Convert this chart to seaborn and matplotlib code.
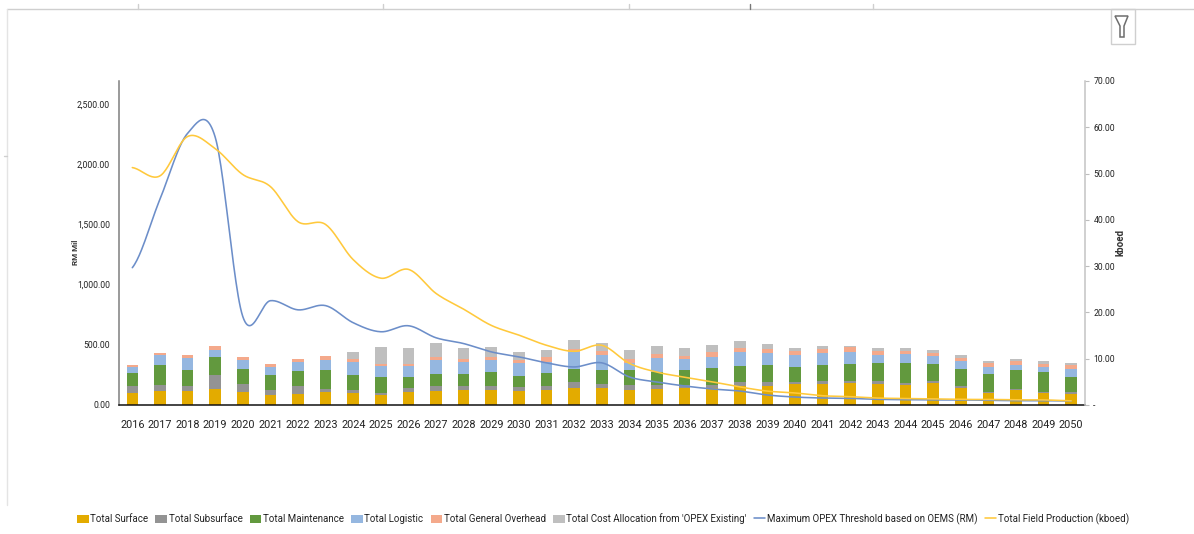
import numpy as np
import matplotlib
matplotlib.use("Agg")
import matplotlib.pyplot as plt
from matplotlib.lines import Line2D
from matplotlib.patches import Patch, Polygon, Rectangle
import seaborn as sns

years = list(range(2016, 2051))

surface = [100, 116, 116, 133, 108, 83, 91, 108, 100, 83, 108, 116, 127, 127, 116, 127, 144, 144,
           127, 133, 144, 144, 160, 160, 177, 177, 186, 177, 169, 186, 144, 100, 127, 100, 91]
subsurface = [61, 53, 44, 119, 69, 44, 69, 25, 28, 17, 33, 44, 33, 33, 36, 33, 50, 33,
              42, 36, 25, 25, 33, 33, 17, 25, 17, 25, 17, 17, 17, 8, 8, 8, 17]
maintenance = [102, 161, 127, 147, 119, 119, 119, 155, 119, 130, 89, 94, 94, 111, 86, 102, 102, 111,
               119, 102, 119, 136, 127, 136, 119, 127, 136, 144, 161, 136, 136, 147, 152, 163, 127]
logistic = [53, 86, 102, 61, 78, 69, 78, 86, 111, 91, 91, 119, 102, 102, 108, 94, 144, 127,
            58, 119, 91, 94, 119, 102, 102, 102, 102, 69, 78, 69, 66, 58, 42, 42, 61]
overhead = [14, 14, 25, 30, 25, 22, 22, 33, 22, 22, 22, 25, 22, 25, 28, 42, 25, 33,
            33, 33, 28, 42, 33, 33, 33, 33, 39, 33, 25, 25, 28, 33, 33, 25, 33]
allocation = [0, 0, 0, 0, 0, 0, 0, 0, 61, 139, 130, 116, 94, 83, 66, 58, 75, 66,
              78, 66, 66, 58, 58, 42, 25, 25, 11, 25, 25, 25, 25, 17, 17, 25, 17]
opex_threshold = [1140, 1708, 2255, 2225, 735, 866, 790, 825, 683, 608, 658, 558, 510, 441, 400, 350, 316, 350,
                  233, 191, 158, 133, 116, 83, 66, 58, 55, 47, 44, 42, 42, 39, 36, 36, 33]
field_production = [51.3, 49.5, 58.0, 55.4, 49.8, 47.2, 39.6, 39.0, 31.4, 27.4, 29.3, 24.1, 20.7, 17.2, 15.1, 12.9, 11.6, 12.9,
                    9.0, 7.1, 6.0, 5.0, 3.9, 3.0, 2.6, 2.0, 1.8, 1.5, 1.4, 1.3, 1.2, 1.2, 1.1, 1.1, 0.9]

cost_names = ["Total Surface", "Total Subsurface", "Total Maintenance", "Total Logistic",
              "Total General Overhead", "Total Cost Allocation from 'OPEX Existing'"]
cost_values = [surface, subsurface, maintenance, logistic, overhead, allocation]
cost_colors = ["#E3AB00", "#939393", "#62993E", "#95B7E0", "#F4A98B", "#BFBFBF"]
threshold_name = "Maximum OPEX Threshold based on OEMS (RM)"
production_name = "Total Field Production (kboed)"
threshold_color = "#6C8EC9"
production_color = "#FFC93C"
left_ticks = [0, 500, 1000, 1500, 2000, 2500]
right_ticks = [0, 10, 20, 30, 40, 50, 60, 70]

sns.set_theme(style="white")
plt.rcParams["font.family"] = ["Roboto", "DejaVu Sans"]


def smooth_curve(values, samples=24):
    """Spreadsheet-style smoothed line: Catmull-Rom segments through each value."""
    p = np.asarray(values, dtype=float)
    p = np.concatenate([[p[0]], p, [p[-1]]])
    xs, ys = [], []
    for i in range(1, len(p) - 2):
        t = np.linspace(0, 1, samples, endpoint=False)
        y = 0.5 * (2 * p[i] + (p[i + 1] - p[i - 1]) * t
                   + (2 * p[i - 1] - 5 * p[i] + 4 * p[i + 1] - p[i + 2]) * t ** 2
                   + (3 * p[i] - p[i - 1] - 3 * p[i + 1] + p[i + 2]) * t ** 3)
        xs.append(i - 1 + t)
        ys.append(y)
    return np.append(np.concatenate(xs), len(values) - 1), np.append(np.concatenate(ys), p[-2])


W, H = 1194, 534
fig = plt.figure(figsize=(W / 100, H / 100), dpi=100, facecolor="white")
ax = fig.add_axes([118.5 / W, 1 - 405 / H, (1085 - 118.5) / W, (405 - 81) / H])
ax.set_facecolor("none")

bottom = np.zeros(len(years))
for name, vals, color in zip(cost_names, cost_values, cost_colors):
    sns.barplot(x=years, y=vals, bottom=bottom, color=color, saturation=1, width=0.42,
                ax=ax, linewidth=0, zorder=2)
    bottom += np.asarray(vals, dtype=float)

tx, ty = smooth_curve(opex_threshold)
sns.lineplot(x=tx, y=ty, color=threshold_color, linewidth=1.15, ax=ax, zorder=3, errorbar=None)

ax2 = ax.twinx()
ax2.set_facecolor("none")
px, py = smooth_curve(field_production)
sns.lineplot(x=px, y=py, color=production_color, linewidth=1.15, ax=ax2, zorder=3, errorbar=None)

ax.set_xlim(-0.5, 34.5)
ax.set_ylim(0, 2690)
ax2.set_ylim(0, 69.8)

ax.set_xticks(range(len(years)), [str(y) for y in years], fontsize=7.8, color="#222222")
ax.set_xticks(np.arange(-0.5, 35), minor=True)
ax.tick_params(axis="x", which="major", length=0, pad=11)
ax.tick_params(axis="x", which="minor", length=5, width=0.8, color="#8a8a8a")
ax.set_yticks(left_ticks, [f"{v:,.2f}" for v in left_ticks], fontsize=6.2, color="#222222")
ax.tick_params(axis="y", length=0, pad=6)
ax2.set_yticks(right_ticks, ["-"] + [f"{v:.2f}" for v in right_ticks[1:]], fontsize=6.2, color="#222222")
ax2.tick_params(axis="y", length=3, width=0.8, color="#bdbdbd", pad=3)
ax.set_xlabel("")
ax.set_ylabel("")
ax2.set_ylabel("")

for a in (ax, ax2):
    for side in ("top", "left", "right", "bottom"):
        a.spines[side].set_visible(False)
ax.spines["left"].set_visible(True)
ax.spines["left"].set_color("#7f7f7f")
ax.spines["left"].set_linewidth(1.1)
ax.spines["bottom"].set_visible(True)
ax.spines["bottom"].set_color("#111111")
ax.spines["bottom"].set_linewidth(1.1)
ax2.spines["right"].set_visible(True)
ax2.spines["right"].set_color("#c4c4c4")
ax2.spines["right"].set_linewidth(1.1)

fig.text(75 / W, 1 - 252 / H, "RM Mil", rotation=90, ha="center", va="center",
         fontsize=5.8, fontweight="bold", color="#333333")
fig.text(1121 / W, 1 - 243 / H, "kboed", rotation=90, ha="center", va="center",
         fontsize=7, fontweight="bold", color="#333333")

handles = [Patch(facecolor=c, edgecolor="none", label=n) for n, c in zip(cost_names, cost_colors)]
handles += [Line2D([], [], color=threshold_color, lw=1.15, label=threshold_name),
            Line2D([], [], color=production_color, lw=1.15, label=production_name)]
fig.legend(handles=handles, loc="center", bbox_to_anchor=(603 / W, 1 - 519 / H), ncol=8, frameon=False,
           fontsize=7, handlelength=1.2, handleheight=1.0, handletextpad=0.15, columnspacing=0.75,
           labelcolor="#222222", borderpad=0, borderaxespad=0)

# Worksheet frame behind the chart, with the column marks along its top edge
frame = "#cfcfcf"
fig.add_artist(Line2D([7 / W, 1], [1 - 9 / H, 1 - 9 / H], color=frame, lw=1))
fig.add_artist(Line2D([7 / W, 7 / W], [1 - 9 / H, 1 - 505 / H], color="#e4e4e4", lw=1))
for mark, col in [(138, frame), (383, frame), (629, frame), (750, "#777777"), (873, frame)]:
    fig.add_artist(Line2D([mark / W, mark / W], [1 - 4 / H, 1 - 9 / H], color=col, lw=1))
fig.add_artist(Line2D([4 / W, 7 / W], [1 - 156 / H, 1 - 156 / H], color=frame, lw=1))

# Filter button in the top-right corner
fig.add_artist(Rectangle((1110.5 / W, 1 - 44 / H), 24 / W, 35 / H, transform=fig.transFigure,
                         facecolor="white", edgecolor="#cfcfcf", lw=1))
funnel = [(1115, 16), (1128, 16), (1124, 26), (1124, 37), (1120, 37), (1120, 26)]
fig.add_artist(Polygon([(x / W, 1 - y / H) for x, y in funnel], closed=True, transform=fig.transFigure,
                       facecolor="white", edgecolor="#6e6e6e", lw=1.1))

fig.savefig("out.png", dpi=100, facecolor="white")
